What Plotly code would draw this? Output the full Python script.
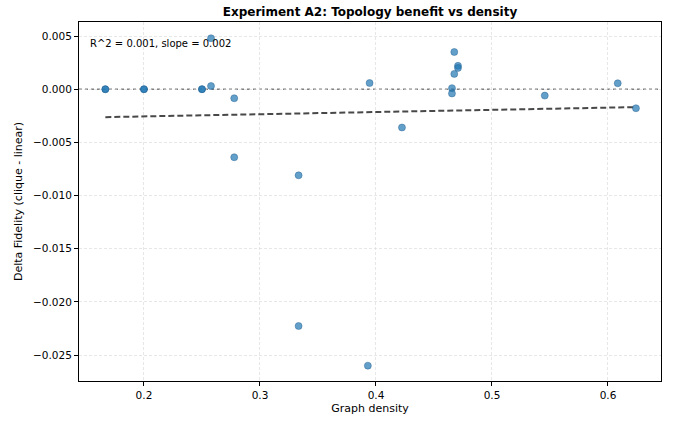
import plotly.graph_objects as go

density = [0.1667, 0.1667, 0.2, 0.2, 0.25, 0.25, 0.2578, 0.2578, 0.2778, 0.2778,
           0.3333, 0.3333, 0.393, 0.3945, 0.4224, 0.4655, 0.4655, 0.4675, 0.4675,
           0.4707, 0.4707, 0.5455, 0.6084, 0.6241]
delta_fid = [0.0, 0.0, 0.0, 0.0, 0.0, 0.0, 0.00479, 0.0003, -0.00085, -0.0064,
             -0.0081, -0.02227, -0.0260, 0.00058, -0.0036, 0.0001, -0.0004, 0.0035, 0.00144,
             0.0022, 0.0020, -0.0006, 0.00056, -0.00179]

fit_slope = 0.00206
fit_intercept = -0.00297
stats_text = "R^2 = 0.001, slope = 0.002"

x_ticks = [0.2, 0.3, 0.4, 0.5, 0.6]
y_ticks = [0.005, 0.0, -0.005, -0.010, -0.015, -0.020, -0.025]

font = "DejaVu Sans"

fig = go.Figure()

xmin, xmax = min(density), max(density)
fig.add_trace(go.Scatter(
    x=[xmin, xmax], y=[fit_intercept + fit_slope * xmin, fit_intercept + fit_slope * xmax],
    mode="lines", line=dict(color="rgba(40,40,40,0.85)", width=2, dash="6px,3px"),
    showlegend=False, hoverinfo="skip"))

fig.add_trace(go.Scatter(
    x=density, y=delta_fid, mode="markers",
    marker=dict(size=7, color="rgba(31,119,180,0.7)", line=dict(color="rgba(31,90,140,0.7)", width=0.6)),
    showlegend=False))

fig.add_hline(y=0, line=dict(color="gray", width=1.5, dash="dot"), layer="below")

fig.add_annotation(text=stats_text, xref="paper", yref="paper", x=0.016, y=0.962,
                   xanchor="left", yanchor="top", showarrow=False,
                   font=dict(family=font, size=10, color="black"))

axis_common = dict(showline=True, linecolor="black", linewidth=1, mirror=True,
                   ticks="outside", ticklen=4, tickcolor="black",
                   showgrid=True, gridcolor="rgba(215,215,215,0.6)", griddash="3px,2px", gridwidth=1,
                   zeroline=False, tickfont=dict(family=font, size=10.5, color="black"))

fig.update_xaxes(range=[0.144, 0.6457], tickvals=x_ticks,
                 ticktext=[f"{v:.1f}" for v in x_ticks],
                 title=dict(text="Graph density", font=dict(family=font, size=11, color="black"), standoff=4),
                 **axis_common)
fig.update_yaxes(range=[-0.02744, 0.00632], tickvals=y_ticks,
                 ticktext=[("\u2212" if v < 0 else "") + f"{abs(v):.3f}" for v in y_ticks],
                 title=dict(text="Delta Fidelity (clique - linear)", font=dict(family=font, size=11, color="black"), standoff=8),
                 **axis_common)

fig.update_layout(
    width=677, height=424,
    margin=dict(l=79, r=16, t=22, b=43),
    plot_bgcolor="white", paper_bgcolor="white",
    title=dict(text="<b>Experiment A2: Topology benefit vs density</b>", x=0.5, xanchor="center",
               xref="paper", y=0.982, yanchor="top", font=dict(family=font, size=12, color="black")),
    font=dict(family=font),
)

fig.write_html("out.html", config={"displayModeBar": False},
               post_script="document.body.style.margin='0';")
